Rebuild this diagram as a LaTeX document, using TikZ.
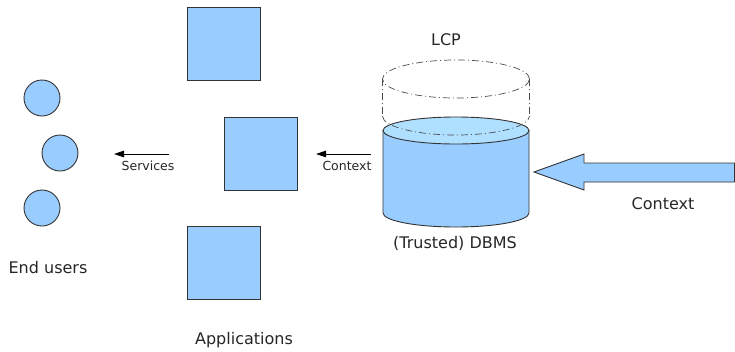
\documentclass[tikz,border=0pt]{standalone}
\usepackage{fontspec}
\setmainfont{DejaVu Sans}
\usetikzlibrary{arrows.meta}
\definecolor{boxblue}{HTML}{99CCFF}
\definecolor{topblue}{HTML}{B0E0FF}
\definecolor{edge}{HTML}{333333}
\tikzset{
  sq/.style={draw=edge, fill=boxblue, line width=0.9pt, minimum size=73pt, inner sep=0pt},
  usr/.style={circle, draw=edge, fill=boxblue, line width=0.9pt, minimum size=36pt, inner sep=0pt},
  biglbl/.style={font=\fontsize{16}{19}\selectfont, text=black!85, inner sep=0pt},
  smalllbl/.style={font=\fontsize{12.5}{14}\selectfont, text=black!85, inner sep=0pt},
  thinarrow/.style={draw=black, line width=0.9pt, -{Triangle[length=10pt,width=6.5pt]}},
  ghost/.style={draw=black!70, line width=0.7pt, dash pattern=on 7pt off 3pt on 1pt off 3pt},
}
\begin{document}
\begin{tikzpicture}[x=1pt,y=-1pt]
\useasboundingbox (0,0) rectangle (735,351);
% users
\node[usr] (u1) at (42,98) {};
\node[usr] (u2) at (60,153) {};
\node[usr] (u3) at (42,208) {};
\node[biglbl] (lu) at (48,268) {End users};
% applications
\node[sq] (a1) at (223.5,43.5) {};
\node[sq] (a2) at (260.5,153.5) {};
\node[sq] (a3) at (223.5,262.5) {};
\node[biglbl] (la) at (244,340) {Applications};
% small arrows
\coordinate (s1) at (169,154);
\coordinate (s2) at (114,154);
\draw[thinarrow] (s1) -- (s2);
\node[smalllbl] (ls) at (148,166) {Services};
\coordinate (c1) at (371,154);
\coordinate (c2) at (316,154);
\draw[thinarrow] (c1) -- (c2);
\node[smalllbl] (lc) at (347,166) {Context};
% LCP ghost cylinder
\draw[ghost] (456,79) ellipse [x radius=73.5pt, y radius=19pt];
\draw[ghost] (382.5,79) -- (382.5,116);
\draw[ghost] (529.5,79) -- (529.5,116);
\node[biglbl] (lcp) at (446,40) {LCP};
% DBMS cylinder
\fill[boxblue] (383,130.5) -- (383,213) arc[start angle=180, end angle=360, x radius=73pt, y radius=14pt] -- (529,130.5) -- cycle;
\draw[edge, line width=0.9pt] (383,130.5) -- (383,213) arc[start angle=180, end angle=360, x radius=73pt, y radius=14pt] -- (529,130.5);
\draw[edge, fill=topblue, line width=0.9pt] (456,130.5) ellipse [x radius=73pt, y radius=13.5pt];
\draw[ghost] (382.5,116) arc[start angle=180, end angle=360, x radius=73.5pt, y radius=19pt];
\coordinate (db) at (529,172);
\node[biglbl] (ldb) at (455,243) {(Trusted) DBMS};
% big context arrow
\draw[edge, fill=boxblue, line width=0.9pt] (534,172) -- (584,154) -- (584,163) -- (734.5,163) -- (734.5,182) -- (584,182) -- (584,190) -- cycle;
\node[biglbl] (lctx) at (663,204) {Context};
\end{tikzpicture}
\end{document}
